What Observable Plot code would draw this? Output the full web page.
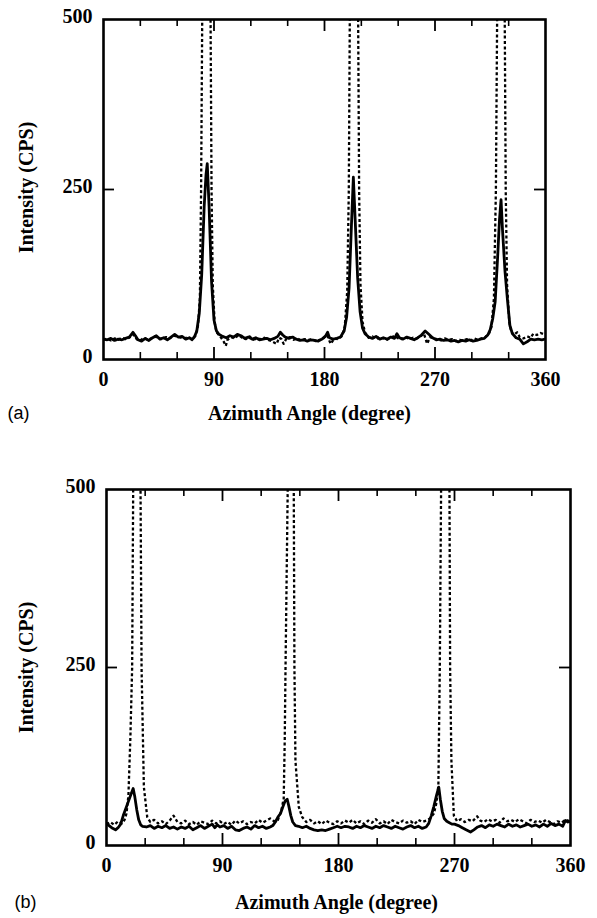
<!DOCTYPE html>
<html>
<head>
<meta charset="utf-8">
<script src="https://cdn.jsdelivr.net/npm/d3@7"></script>
<script src="https://cdn.jsdelivr.net/npm/@observablehq/plot@0.6"></script>
<style>
  html, body { margin: 0; padding: 0; background: #fff; }
  #wrap { position: relative; width: 597px; height: 918px; background: #fff; }
  #wrap > svg { position: absolute; left: 0; }
</style>
</head>
<body>
<div id="wrap"></div>
<script>
// ---------- Data ----------
const xTickLabels = [0, 90, 180, 270, 360];
const xMinorTicks = [30, 60, 120, 150, 210, 240, 300, 330];
const xMajorTicks = [90, 180, 270];
const yTickLabels = [0, 250, 500];
const yInnerTicks = [250];

// Panel (a) – solid curve
const aSolidAngle = [0,3,6,9,12,15,18,21,24,26,28,31,34,37,40,43,46,49,52,55,58,61,64,67,70,72,74,76,78,80,82,83.5,84.5,86,88,90,92,94,97,100,103,106,109,112,115,118,121,124,127,130,133,136,139,142,144,146,148,151,154,157,160,163,166,169,172,175,178,181,182.5,184,187,190,193,196,198,200,202,203.5,205,207,209,211,213,216,219,222,225,228,231,234,237,239,241,244,247,250,253,256,259,262,265,268,271,274,277,280,283,286,289,292,295,298,301,304,307,310,313,315,317,319,321,322.5,323.8,325,327,329,331,333,336,339,342,345,348,351,354,357,360];
const aSolidValue = [30,29,31,28,30,29,31,33,40,35,29,27,31,28,32,35,30,32,29,33,37,33,34,30,32,29,33,42,68,125,225,272,288,225,115,58,42,37,34,32,35,33,37,35,31,33,30,32,29,30,31,29,31,34,40,36,33,31,33,30,28,29,27,29,28,27,30,35,40,32,30,31,33,42,62,105,200,268,205,120,70,46,38,33,31,34,30,32,30,33,31,38,32,30,33,31,29,32,36,42,37,32,29,30,28,29,27,28,26,28,27,29,27,28,30,31,36,44,60,85,150,205,235,190,130,88,50,38,32,30,23,26,30,29,30,29,30];

// Panel (a) – dotted curve
const aDotAngle = [0,3,6,9,12,15,18,21,24,27,30,33,36,39,42,45,48,51,54,57,60,63,66,69,72,75,77,78.5,79.5,80.4,81,86.5,87.2,88,89,90.5,92,95,98,99.6,101,104,107,110,113,116,119,122,125,128,131,134,137,141,143,145,146.7,149,152,155,158,161,164,167,170,173,176,179,182,185,188,191,194,196.5,198.5,199.8,200.6,201.2,206.8,207.4,208.2,209.3,211,213,216,219,222,225,228,231,234,237,240,243,246,249,252,255,258,261,263.6,266,269,272,275,278,281,284,287,290,293,296,299,302,305,308,311,314,316,318,319.6,320.6,321.2,326.2,326.8,327.6,328.7,330.5,332,334,336.9,339,342,345,348,350,353,356,359,360];
const aDotValue = [29,31,28,31,29,32,30,32,37,30,28,32,29,31,34,31,30,33,31,35,34,32,31,33,30,35,50,90,250,500,800,800,500,250,110,55,40,34,26,20,29,33,31,36,32,30,34,29,31,30,32,29,27,23,32,30,23,31,33,29,31,28,30,29,30,27,29,31,36,23,31,30,34,48,100,250,500,800,800,500,250,110,55,40,32,34,30,33,31,29,32,35,31,30,33,30,32,31,34,38,23,33,31,30,28,31,29,30,27,29,28,30,28,31,29,31,33,38,48,90,250,500,800,800,500,250,110,55,42,36,40,33,31,34,32,38,36,39,37,38];

// Panel (b) – solid curve
const bSolidAngle = [0,2,4,7,9,11,13,15,17,19,20.7,22,23.5,25,26.5,28,31,34,37,40,43,46,49,52,55,58,61,64,67,70,73,76,79,82,84,86,88,91,94,97,100,103,106,109,112,115,118,121,124,127,129,131,133,135,137,138.5,140.2,141.5,143,144.5,146.6,149,152,155,158,161,164,167,170,173,176,179,182,185,188,191,194,197,200,203,206,209,212,215,218,221,224,227,230,233,236,239,242,245,248,250,252,254,256,257.8,259,260.5,262,264,266,268,270,273,276,279,282.4,285,288,291,294,297,300,303,306,309,312,315,318,321,324,327,330,333,336,339,342,345,348,351,354,356,358,360];
const bSolidValue = [31,28,25,22,25,30,42,52,62,72,80,68,50,36,29,27,26,28,24,27,25,28,24,26,23,26,24,27,22,25,28,24,27,30,25,29,26,28,24,27,22,21,24,26,23,28,25,27,24,26,28,33,40,45,55,62,65,55,42,33,28,27,25,27,24,22,21,22,21,23,25,27,25,27,26,24,27,25,28,26,24,27,25,28,26,24,27,25,23,26,28,25,27,24,26,31,42,55,70,82,65,48,38,34,32,30,30,28,25,22,19,22,26,28,25,29,27,30,28,26,30,27,29,26,28,30,27,29,26,30,27,31,28,30,27,35,33,34];

// Panel (b) – dotted curve
const bDotAngle = [0,3,6,9,12,14,15.5,17,18.5,19.9,20.7,21.3,25.8,26.4,27.2,29,31.6,34,37,40,43,46,49,52,55,58,61,64,67,70,73,76,79,82,85,88,91,94,97,100,103,106,109,112,115,118,121,124,127,130,133,135.5,137.5,138.3,138.9,140.6,141.2,144.7,145.3,145.8,146.6,149.2,151.8,155,158,161,164,167,170,173,176,179,182,185,188,191,194,197,200,203,206,209,212,215,218,221,224,227,230,233,236,239,242,245,248,251,254,256,257.5,258.6,259.6,260.2,265.5,266.1,266.6,267.6,269.5,272,275,278,281,284,287.6,290,293,296,299,302,305,308,311,314,317,320,323,326,329,332,335,338,341,344,347,350,353,356,360];
const bDotValue = [30,33,29,34,31,36,45,70,150,250,500,800,800,500,250,82,40,33,36,31,34,30,35,42,33,31,35,30,33,29,34,32,30,35,31,34,30,33,29,35,31,34,30,33,31,36,32,35,38,34,36,48,66,150,250,500,800,800,500,250,119,54,40,33,36,31,34,30,35,32,30,34,31,35,32,36,31,34,30,35,32,37,31,34,30,36,33,31,35,32,34,30,36,33,35,38,45,60,85,250,500,800,800,500,250,119,42,34,37,33,36,34,41,35,33,37,34,36,32,38,34,36,33,37,34,31,36,33,35,32,36,33,30,34,32,36,34];

// ---------- Drawing ----------
const serif = "'Liberation Serif', 'Times New Roman', serif";
const sans = "'Liberation Sans', Arial, sans-serif";

function toRows(xs, ys) { return xs.map((x, i) => ({x, y: ys[i]})); }

function panel(cfg) {
  const innerW = cfg.width - cfg.ml - cfg.mr;
  const innerH = cfg.height - cfg.mt - cfg.mb;
  const solid = toRows(cfg.solidX, cfg.solidY);
  const dotted = toRows(cfg.dotX, cfg.dotY);
  return Plot.plot({
    width: cfg.width,
    height: cfg.height,
    marginLeft: cfg.ml,
    marginRight: cfg.mr,
    marginTop: cfg.mt,
    marginBottom: cfg.mb,
    style: {fontFamily: serif, fontWeight: "bold", fontSize: "20px", background: "white", overflow: "visible"},
    x: {domain: [0, 360]},
    y: {domain: [0, 500]},
    marks: [
      // inward ticks
      Plot.ruleX(xMinorTicks, {x: d => d, insetTop: innerH - 7, strokeWidth: 1.6}),
      Plot.ruleX(xMinorTicks, {x: d => d, insetBottom: innerH - 7, strokeWidth: 1.6}),
      Plot.ruleX(xMajorTicks, {x: d => d, insetTop: innerH - 12, strokeWidth: 1.8}),
      Plot.ruleX(xMajorTicks, {x: d => d, insetBottom: innerH - 12, strokeWidth: 1.8}),
      Plot.ruleY(yInnerTicks, {y: d => d, insetRight: innerW - 11, strokeWidth: 1.8}),
      Plot.ruleY(yInnerTicks, {y: d => d, insetLeft: innerW - 11, strokeWidth: 1.8}),
      // curves
      Plot.line(dotted, {x: "x", y: "y", clip: true, stroke: "black", strokeWidth: 2.3, strokeDasharray: "3,2.4", strokeLinecap: "butt"}),
      Plot.line(solid, {x: "x", y: "y", clip: true, stroke: "black", strokeWidth: 2.8, strokeLinejoin: "round"}),
      Plot.frame({stroke: "black", strokeWidth: 2.6}),
      // axes (labels only)
      Plot.axisX(xTickLabels, {tickSize: 0, tickPadding: 12, label: null, fontSize: 20, fontWeight: "bold"}),
      Plot.axisY(yTickLabels, {tickSize: 0, tickPadding: 11, label: null, fontSize: 20, fontWeight: "bold", dy: -3}),
      // axis titles
      Plot.text(["Intensity (CPS)"], {frameAnchor: "left", rotate: -90, dx: cfg.yLabelDx, dy: cfg.yLabelDy, fontSize: 20, fontWeight: "bold", textAnchor: "middle"}),
      Plot.text(["Azimuth Angle (degree)"], {frameAnchor: "bottom", dx: cfg.xLabelDx, dy: cfg.xLabelDy, lineAnchor: "middle", fontSize: 20, fontWeight: "bold"}),
      Plot.text([cfg.tag], {frameAnchor: "bottom-left", dx: cfg.tagDx, dy: cfg.xLabelDy, lineAnchor: "middle", textAnchor: "middle", fontSize: 18, fontWeight: "normal", fontFamily: sans})
    ]
  });
}

const wrap = document.getElementById("wrap");

const plotA = panel({
  width: 597, height: 430, ml: 103, mr: 52, mt: 19, mb: 71,
  solidX: aSolidAngle, solidY: aSolidValue, dotX: aDotAngle, dotY: aDotValue,
  yLabelDx: -77, yLabelDy: -2, xLabelDx: -15, xLabelDy: 54, tag: "(a)", tagDx: -85
});
plotA.style.top = "0px";
wrap.appendChild(plotA);

const plotB = panel({
  width: 597, height: 448, ml: 106, mr: 27, mt: 19, mb: 73,
  solidX: bSolidAngle, solidY: bSolidValue, dotX: bDotAngle, dotY: bDotValue,
  yLabelDx: -80, yLabelDy: 0, xLabelDx: -2, xLabelDy: 57, tag: "(b)", tagDx: -81
});
plotB.style.top = "470px";
wrap.appendChild(plotB);
</script>
</body>
</html>
